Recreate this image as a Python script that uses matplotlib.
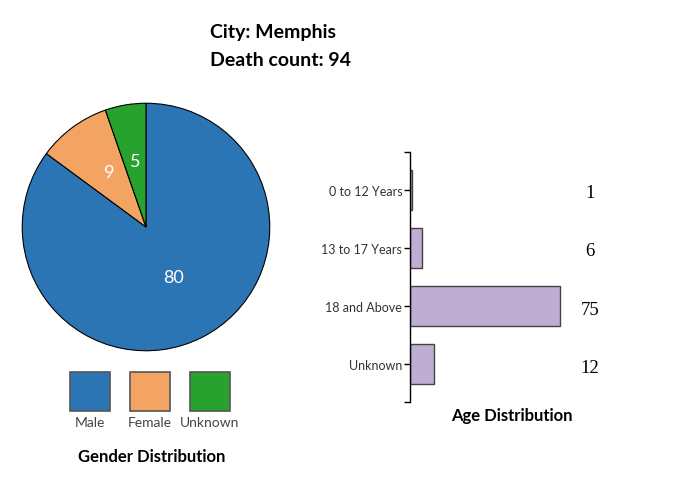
import numpy as np
import matplotlib.pyplot as plt
from matplotlib.patches import Rectangle

plt.rcParams['font.family'] = ['Lato', 'DejaVu Sans']

# data
city = "Memphis"
death_count = 94
gender_labels = ["Male", "Female", "Unknown"]
gender_counts = [80, 9, 5]
gender_colors = ["#2c75b4", "#f4a462", "#27a22e"]
age_labels = ["0 to 12 Years", "13 to 17 Years", "18 and Above", "Unknown"]
age_counts = [1, 6, 75, 12]
bar_color = "#bfadd4"

W, H = 677, 481
fig = plt.figure(figsize=(W / 100, H / 100), dpi=100)


def box(x0, y0, w, h):
    # pixel box (top-left origin) -> figure fraction
    return [x0 / W, (H - y0 - h) / H, w / W, h / H]


# title
fig.text(210 / W, 1 - 33 / H, "City: " + city, fontsize=14, fontweight="bold", va="center", ha="left")
fig.text(210 / W, 1 - 61 / H, "Death count: " + str(death_count), fontsize=14, fontweight="bold", va="center", ha="left")

# pie
ax1 = fig.add_axes(box(21, 103, 250, 250))
wedges, _ = ax1.pie(gender_counts, colors=gender_colors, startangle=90, counterclock=False,
                    radius=1, wedgeprops=dict(edgecolor="black", linewidth=0.8))
for w, c in zip(wedges, gender_counts):
    ang = np.deg2rad((w.theta1 + w.theta2) / 2)
    ax1.text(0.5 * np.cos(ang), 0.5 * np.sin(ang), str(c), color="white", fontsize=13,
             ha="center", va="baseline")
ax1.set_xlim(-1.01, 1.01)
ax1.set_ylim(-1.01, 1.01)
ax1.set_aspect("equal")
ax1.axis("off")

# legend squares
for i, (lab, col) in enumerate(zip(gender_labels, gender_colors)):
    x0 = 70 + i * 60
    fig.add_artist(Rectangle((x0 / W, 1 - 412 / H), 40 / W, 39 / H, transform=fig.transFigure,
                             facecolor=col, edgecolor="#555555", linewidth=1.2))
    fig.text((x0 + 20) / W, 1 - 423 / H, lab, fontsize=10, color="#444444", ha="center", va="center")
fig.text(152 / W, 1 - 457 / H, "Gender Distribution", fontsize=12, fontweight="bold", ha="center", va="center")

# bar chart
ax2 = fig.add_axes(box(410, 153, 200, 250))
ypos = np.arange(len(age_labels))
ax2.barh(ypos, age_counts, height=0.686, color=bar_color, edgecolor="#444444", linewidth=1)
ax2.set_xlim(0, 100)
ax2.set_ylim(3.644, -0.644)
ax2.set_yticks(ypos)
ax2.set_yticklabels(age_labels, fontsize=9, color="#333333")
ax2.set_yticks([-0.644, 3.644], minor=True)
ax2.tick_params(axis="y", which="both", length=4.5, width=1, direction="out", pad=1)
ax2.set_xticks([])
for s in ["top", "right", "bottom"]:
    ax2.spines[s].set_visible(False)
ax2.spines["left"].set_linewidth(1)
for y, v in zip(ypos, age_counts):
    ax2.text(90, y + 0.05, str(v), fontsize=13.5, family="Liberation Serif", ha="center", va="center")
fig.text(512 / W, 1 - 416 / H, "Age Distribution", fontsize=12, fontweight="bold", ha="center", va="center")

fig.savefig("out.png", dpi=100)
